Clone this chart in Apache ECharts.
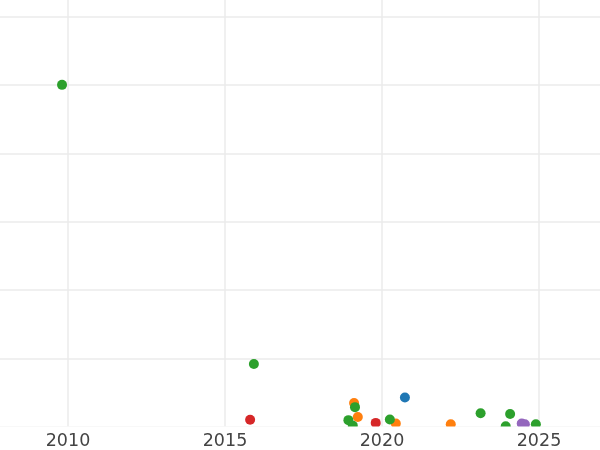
<!DOCTYPE html>
<html>
<head>
<meta charset="utf-8">
<script src="https://cdn.jsdelivr.net/npm/echarts@6/dist/echarts.min.js"></script>
<style>
  html, body { margin: 0; padding: 0; background: #fff; }
  #chart { width: 600px; height: 450px; }
</style>
</head>
<body>
<div id="chart"></div>
<script>
// [year, value] per colour group
const blueData = [[2020.73, 0.43]]
const orangeData = [[2019.11, 0.35], [2019.23, 0.146], [2020.44, 0.05], [2022.19, 0.04]]
const greenData = [
  [2009.81, 5.0], [2015.92, 0.92], [2019.14, 0.29], [2018.93, 0.10],
  [2019.07, 0.02], [2020.25, 0.11], [2023.14, 0.20], [2024.08, 0.19],
  [2023.94, 0.01], [2024.90, 0.04]
]
const redData = [[2015.80, 0.107], [2019.80, 0.06]]
const purpleData = [[2024.45, 0.05], [2024.55, 0.04]]

const xTicks = [2005, 2010, 2015, 2020, 2025, 2030]

const chart = echarts.init(document.getElementById('chart'))

function scatter (name, color, data) {
  return {
    name: name,
    type: 'scatter',
    symbolSize: 10,
    z: 2,
    itemStyle: { color: color, opacity: 1 },
    data: data
  }
}

const xBase = {
  type: 'value',
  min: xTicks[0],
  max: xTicks[xTicks.length - 1],
  interval: 5,
  axisLine: { show: false },
  axisTick: { show: false }
}

chart.setOption({
  animation: false,
  grid: {
    left: -89, right: -96, top: -52, bottom: 23,
    containLabel: false,
    outerBoundsMode: 'none'
  },
  // white strip under the plot: hides the baseline grid line and clips the dots
  graphic: [{
    type: 'rect',
    z: 5,
    shape: { x: 0, y: 426.5, width: 600, height: 30 },
    style: { fill: '#fff' }
  }],
  xAxis: [
    Object.assign({}, xBase, {
      axisLabel: { show: false },
      splitLine: { show: true, lineStyle: { color: '#ebebeb', width: 1.5 } }
    }),
    Object.assign({}, xBase, {
      position: 'bottom',
      z: 10,
      axisLabel: {
        color: '#444',
        fontSize: 17.5,
        fontFamily: 'DejaVu Sans',
        margin: 5,
        formatter: v => String(v)
      },
      splitLine: { show: false }
    })
  ],
  yAxis: {
    type: 'value',
    min: 0,
    max: 7,
    interval: 1,
    axisLine: { show: false },
    axisTick: { show: false },
    axisLabel: { show: false },
    splitLine: { show: true, lineStyle: { color: '#ebebeb', width: 1.5 } }
  },
  series: [
    scatter('blue', '#1f77b4', blueData),
    scatter('orange', '#ff7f0e', orangeData),
    scatter('green', '#2ca02c', greenData),
    scatter('red', '#d62728', redData),
    scatter('purple', '#9467bd', purpleData)
  ]
})
</script>
</body>
</html>
